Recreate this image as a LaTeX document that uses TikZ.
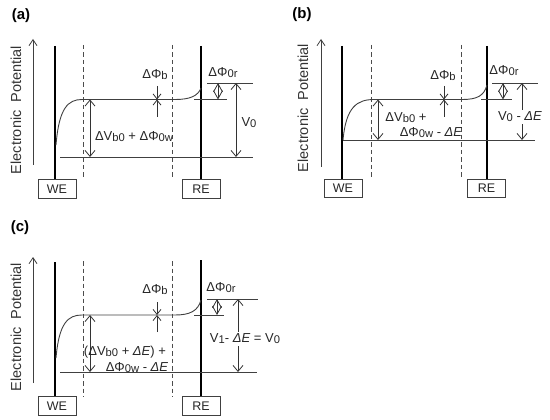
\documentclass[tikz,border=0pt]{standalone}
\usepackage{fontspec}
\setmainfont{Liberation Sans}
\usetikzlibrary{arrows.meta}
\newcommand\lowr[1]{\raisebox{-1pt}{\fontsize{11.2}{12}\selectfont #1}}
\newcommand\dE{\textit{ΔE}}
\tikzset{
  txt/.style={inner sep=0.5pt,text=black!85,font=\fontsize{13}{14}\selectfont},
  panel/.style={inner sep=0pt,font=\fontsize{15}{16}\selectfont\bfseries},
  ylab/.style={rotate=90,inner sep=0pt,text=black!80,font=\fontsize{14.5}{16}\selectfont},
  electrode/.style={line width=2.8pt,black},
  ebox/.style={draw=black!75,line width=0.9pt,minimum width=38pt,minimum height=18.5pt,inner sep=0pt,text=black!85,font=\fontsize{12.5}{13}\selectfont,fill=white},
  divider/.style={line width=0.8pt,dash pattern=on 4.5pt off 3pt,black!70},
  level/.style={line width=0.9pt,black!75},
  axisarrow/.style={line width=0.8pt,black!75,-{Straight Barb[length=6pt,width=8pt]}},
  dbl/.style={line width=0.8pt,black!80,{Straight Barb[length=6pt,width=10pt]}-{Straight Barb[length=6pt,width=10pt]}},
  dia/.style={line width=0.8pt,black!80,{Straight Barb[length=8pt,width=9pt]}-{Straight Barb[length=8pt,width=9pt]}},
  pin/.style={line width=0.8pt,black!80,-{Straight Barb[length=5pt,width=8pt]}}
}
\begin{document}
\begin{tikzpicture}[x=1pt,y=-1pt]
\useasboundingbox (0,0) rectangle (550,420);
% ================= (a) =================
\node[panel] (pa) at (21,16) {(a)};
\coordinate (axA1) at (33,165); \coordinate (axA2) at (33,39);
\draw[axisarrow] (axA1) -- (axA2);
\node[ylab] (yla) at (16,110) {Electronic\ \ Potential};
\node[ebox] (wea) at (57,189) {WE};
\node[ebox] (rea) at (201,189) {RE};
\coordinate (wetA) at (55,46); \coordinate (retA) at (201,46);
\draw[electrode] (wetA) -- (wea.north -| wetA);
\draw[electrode] (retA) -- (rea.north -| retA);
\coordinate (d1tA) at (83,45); \coordinate (d1bA) at (83,177);
\coordinate (d2tA) at (172,45); \coordinate (d2bA) at (172,177);
\draw[divider] (d1tA) -- (d1bA);
\draw[divider] (d2tA) -- (d2bA);
\coordinate (cA0) at (56,145); \coordinate (cA1) at (82,99.5);
\coordinate (cA2) at (175,99.5); \coordinate (cA3) at (201,88);
\draw[level] (cA0) .. controls (59,108) and (68,99.5) .. (cA1) -- (cA2) .. controls (190,99.5) and (198,96) .. (cA3);
\coordinate (bA1) at (60,157); \coordinate (bA2) at (253,157);
\draw[level] (bA1) -- (bA2);
\coordinate (tA1) at (207,83); \coordinate (tA2) at (253,83);
\draw[level] (tA1) -- (tA2);
\coordinate (sA1) at (194,99.5); \coordinate (sA2) at (227,99.5);
\draw[level] (sA1) -- (sA2);
\coordinate (vA1) at (90,99.5); \coordinate (vA2) at (90,157);
\draw[dbl] (vA1) -- (vA2);
\node[txt] (lvA) at (134,137) {ΔV\lowr{b0} + ΔΦ\lowr{0w}};
\coordinate (pbA0) at (157,86); \coordinate (pbA1) at (157,99.5); \coordinate (pbA2) at (157,117);
\draw[pin] (pbA0) -- (pbA1);
\draw[pin] (pbA2) -- (pbA1);
\node[txt] (lpbA) at (155,75) {ΔΦ\lowr{b}};
\coordinate (rA1) at (218,83); \coordinate (rA2) at (218,99.5);
\draw[dia] (rA1) -- (rA2);
\node[txt] (lrA) at (223,73) {ΔΦ\lowr{0r}};
\coordinate (VA1) at (236,83); \coordinate (VA2) at (236,157);
\draw[dbl] (VA1) -- (VA2);
\node[txt] (lVA) at (249,123) {V\lowr{0}};
% ================= (b) =================
\node[panel] (pb) at (302,15) {(b)};
\coordinate (axB1) at (321,167); \coordinate (axB2) at (321,39);
\draw[axisarrow] (axB1) -- (axB2);
\node[ylab] (ylb) at (303,108) {Electronic\ \ Potential};
\node[ebox] (web) at (343,188.5) {WE};
\node[ebox] (reb) at (486.5,188.5) {RE};
\coordinate (wetB) at (342,46); \coordinate (retB) at (487,46);
\draw[electrode] (wetB) -- (web.north -| wetB);
\draw[electrode] (retB) -- (reb.north -| retB);
\coordinate (d1tB) at (371,45); \coordinate (d1bB) at (371,177);
\coordinate (d2tB) at (461,45); \coordinate (d2bB) at (461,180);
\draw[divider] (d1tB) -- (d1bB);
\draw[divider] (d2tB) -- (d2bB);
\coordinate (cB0) at (343,140); \coordinate (cB1) at (374,99.5);
\coordinate (cB2) at (462,99.5); \coordinate (cB3) at (487,85);
\draw[level] (cB0) .. controls (346,107) and (357,99.5) .. (cB1) -- (cB2) .. controls (477,99.5) and (484,96) .. (cB3);
\coordinate (bB2) at (535,140);
\draw[level] (cB0) -- (bB2);
\coordinate (tB1) at (492,83); \coordinate (tB2) at (538,83);
\draw[level] (tB1) -- (tB2);
\coordinate (sB1) at (481,99.5); \coordinate (sB2) at (512,99.5);
\draw[level] (sB1) -- (sB2);
\coordinate (vB1) at (378,99.5); \coordinate (vB2) at (378,140);
\draw[dbl] (vB1) -- (vB2);
\node[txt] (lvB1) at (406,117.5) {ΔV\lowr{b0} +};
\node[txt] (lvB2) at (431,133) {ΔΦ\lowr{0w} - \dE};
\coordinate (pbB0) at (444,86); \coordinate (pbB1) at (444,99.5); \coordinate (pbB2) at (444,117);
\draw[pin] (pbB0) -- (pbB1);
\draw[pin] (pbB2) -- (pbB1);
\node[txt] (lpbB) at (443,76) {ΔΦ\lowr{b}};
\coordinate (rB1) at (503,83); \coordinate (rB2) at (503,99.5);
\draw[dia] (rB1) -- (rB2);
\node[txt] (lrB) at (504,71) {ΔΦ\lowr{0r}};
\coordinate (VB1) at (522,83); \coordinate (VB2) at (522,140);
\draw[dbl] (VB1) -- (VB2);
\node[txt,fill=white,inner sep=1.5pt] (lVB) at (520,117) {V\lowr{0} - \dE};
% ================= (c) =================
\node[panel] (pc) at (20,228) {(c)};
\coordinate (axC1) at (33,383); \coordinate (axC2) at (33,257);
\draw[axisarrow] (axC1) -- (axC2);
\node[ylab] (ylc) at (16,327) {Electronic\ \ Potential};
\node[ebox] (wec) at (57,406) {WE};
\node[ebox] (rec) at (201,406) {RE};
\coordinate (wetC) at (55,262); \coordinate (retC) at (201,260);
\draw[electrode] (wetC) -- (wec.north -| wetC);
\draw[electrode] (retC) -- (rec.north -| retC);
\coordinate (d1tC) at (83,261); \coordinate (d1bC) at (83,397);
\coordinate (d2tC) at (172,261); \coordinate (d2bC) at (172,397);
\draw[divider] (d1tC) -- (d1bC);
\draw[divider] (d2tC) -- (d2bC);
\coordinate (cC0) at (56,358); \coordinate (cC1) at (82,315);
\coordinate (cC2) at (175,315); \coordinate (cC3) at (201,300);
\draw[level] (cC0) .. controls (59,323) and (68,315) .. (cC1) -- (cC2) .. controls (190,315) and (198,311) .. (cC3);
\coordinate (bC1) at (60,372); \coordinate (bC2) at (257,372);
\draw[level] (bC1) -- (bC2);
\coordinate (tC1) at (207,299); \coordinate (tC2) at (258,299);
\draw[level] (tC1) -- (tC2);
\coordinate (sC1) at (194,315); \coordinate (sC2) at (224,315);
\draw[level] (sC1) -- (sC2);
\coordinate (vC1) at (90,315); \coordinate (vC2) at (90,372);
\draw[dbl] (vC1) -- (vC2);
\node[txt] (lvC1) at (125,352.5) {(ΔV\lowr{b0} + \dE) +};
\node[txt] (lvC2) at (137,368) {ΔΦ\lowr{0w} - \dE};
\coordinate (pbC0) at (157,302); \coordinate (pbC1) at (157,315); \coordinate (pbC2) at (157,332);
\draw[pin] (pbC0) -- (pbC1);
\draw[pin] (pbC2) -- (pbC1);
\node[txt] (lpbC) at (155,290) {ΔΦ\lowr{b}};
\coordinate (rC1) at (217,299); \coordinate (rC2) at (217,315);
\draw[dia] (rC1) -- (rC2);
\node[txt] (lrC) at (221,288) {ΔΦ\lowr{0r}};
\coordinate (VC1) at (238,299); \coordinate (VC2) at (238,372);
\draw[dbl] (VC1) -- (VC2);
\node[txt,fill=white,inner sep=1.5pt] (lVC) at (245,339) {V\lowr{1}- \dE\ = V\lowr{0}};
\end{tikzpicture}
\end{document}
